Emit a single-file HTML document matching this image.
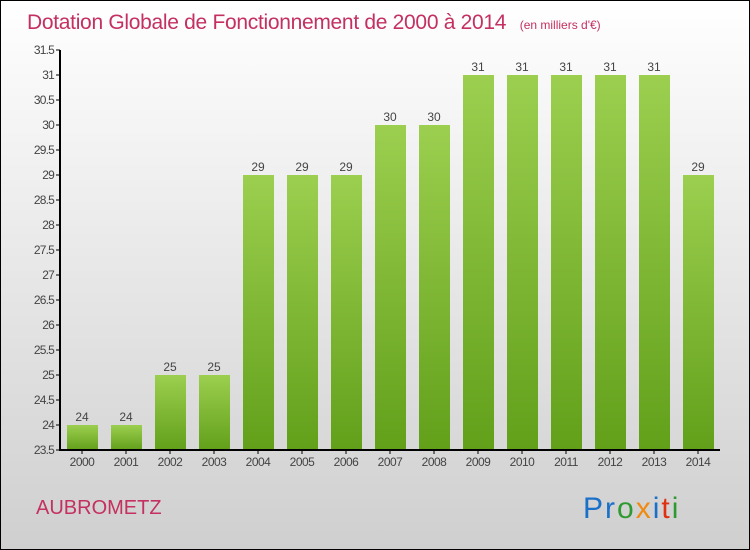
<!DOCTYPE html>
<html><head><meta charset="utf-8"><style>
body{margin:0}
#c{width:750px;height:550px;position:relative;box-sizing:border-box;border:1px solid #000;background:linear-gradient(#fff,#cfcfcf);font-family:"Liberation Sans",sans-serif;overflow:hidden}
</style></head><body>
<div id="c">
<svg width="750" height="550" style="position:absolute;left:-1px;top:-1px">
<defs><linearGradient id="g" x1="0" y1="0" x2="0" y2="1"><stop offset="0" stop-color="#9ccf4f"/><stop offset="1" stop-color="#62a01a"/></linearGradient></defs>
<text x="27" y="29" font-size="21" fill="#c4305f" letter-spacing="-0.3">Dotation Globale de Fonctionnement de 2000 à 2014 <tspan font-size="12" dx="8" letter-spacing="0">(en milliers d'€)</tspan></text>
<g id="ax"></g>
<text x="36" y="514" font-size="20" fill="#c4305f">AUBROMETZ</text>
<text x="583" y="518" font-size="30" letter-spacing="2"><tspan fill="#1a6fc9">Pr</tspan><tspan fill="#2f9a33">o</tspan><tspan fill="#f08a10">x</tspan><tspan fill="#1a6fc9">i</tspan><tspan fill="#e03010">t</tspan><tspan fill="#2f9a33">i</tspan></text>
</svg>
</div>
<script>
const categories=["2000","2001","2002","2003","2004","2005","2006","2007","2008","2009","2010","2011","2012","2013","2014"];
const values=[24,24,25,25,29,29,29,30,30,31,31,31,31,31,29];
const yTicks=[23.5,24,24.5,25,25.5,26,26.5,27,27.5,28,28.5,29,29.5,30,30.5,31,31.5];
const NS="http://www.w3.org/2000/svg";
const g=document.getElementById('ax');
const y=v=>450-(v-23.5)*50;
const x=i=>82+i*44;
function mk(t,a,txt){const e=document.createElementNS(NS,t);for(const k in a)e.setAttribute(k,a[k]);if(txt!==undefined)e.textContent=txt;g.appendChild(e);return e;}
yTicks.forEach(v=>{
 const l=mk('line',{x1:56,x2:60,y1:y(v),y2:y(v),stroke:'#000'});
 
 const t=mk('text',{x:54,y:y(v)+4,'font-size':12,fill:'#444','text-anchor':'end','letter-spacing':'-0.8'},String(v));
 
});
categories.forEach((c,i)=>{
 const r=mk('rect',{x:x(i)-15,y:y(values[i]),width:31,height:450-y(values[i]),fill:'url(#g)'});
 
 const v=mk('text',{x:x(i),y:y(values[i])-4,'font-size':12,fill:'#444','text-anchor':'middle'},String(values[i]));
 
 const tk=mk('line',{x1:x(i),x2:x(i),y1:450,y2:454,stroke:'#000'});
 
 const t=mk('text',{x:x(i),y:466,'font-size':12,fill:'#444','text-anchor':'middle','letter-spacing':'-0.5'},c);
 
});
const ya=mk('line',{x1:60,x2:60,y1:50,y2:451,stroke:'#000','stroke-width':2});

const xa=mk('line',{x1:59,x2:720,y1:450,y2:450,stroke:'#000','stroke-width':2});

</script>
</body></html>
